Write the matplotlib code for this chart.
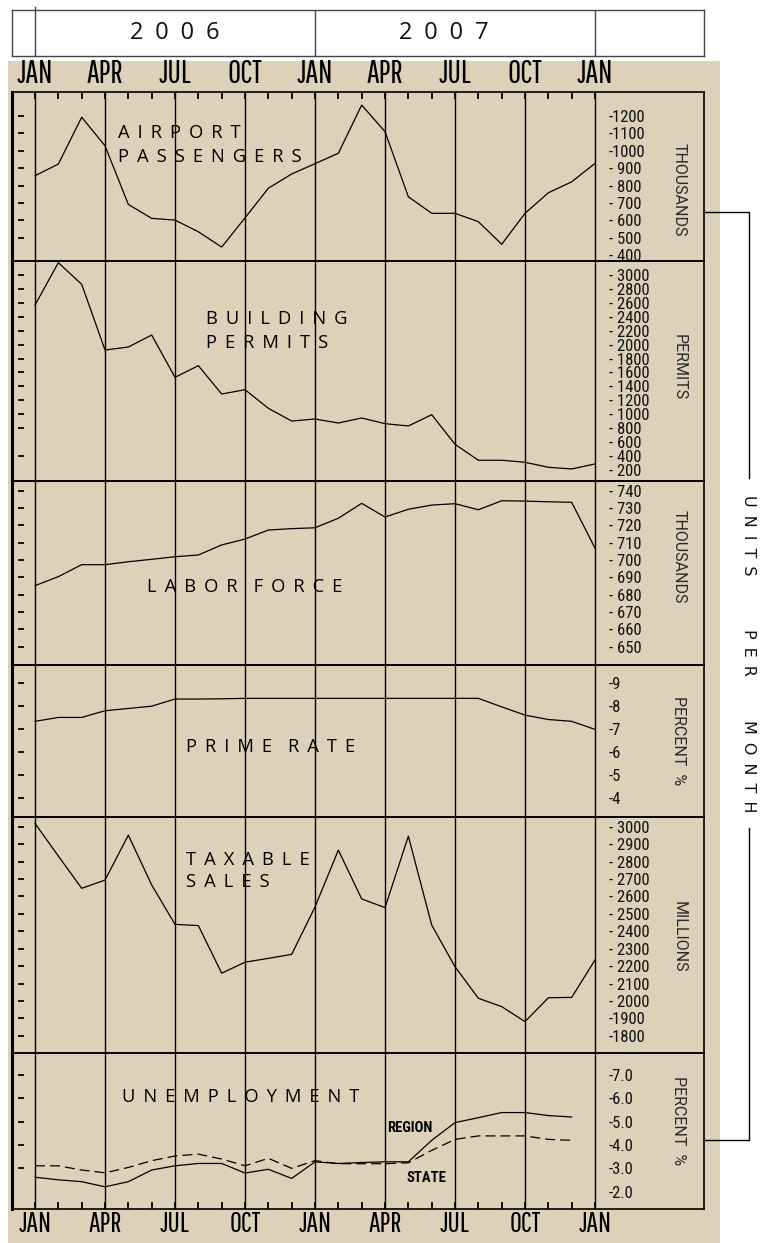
import numpy as np
import matplotlib.pyplot as plt
from matplotlib.patches import Rectangle
from matplotlib.transforms import blended_transform_factory

# monthly values, JAN 2006 .. JAN 2008
months = np.arange(25)
month_names = ['JAN', 'APR', 'JUL', 'OCT', 'JAN', 'APR', 'JUL', 'OCT', 'JAN']
years = ['2006', '2007']

airport = [857, 924, 1193, 1029, 692, 612, 602, 535, 447, 615, 785, 867, 926,
           986, 1263, 1110, 736, 641, 641, 593, 463, 641, 759, 822, 928]
permits = [2569, 3177, 2866, 1923, 1966, 2138, 1531, 1698, 1291, 1353, 1086, 903,
           932, 875, 947, 865, 832, 994, 569, 340, 340, 311, 239, 215, 287]
labor = [685.2, 690.4, 697.3, 697.3, 699.0, 700.4, 701.9, 702.9, 708.7, 712.1,
         717.3, 718.1, 718.6, 724.1, 732.7, 724.8, 729.3, 731.7, 732.5, 729.0,
         734.2, 734.0, 733.6, 733.3, 706.8]
prime = [7.35, 7.52, 7.52, 7.81, 7.91, 8.01, 8.32, 8.32, 8.33, 8.35, 8.35, 8.35,
         8.35, 8.35, 8.35, 8.35, 8.35, 8.35, 8.35, 8.35, 7.98, 7.62, 7.43, 7.35, 7.0]
taxable = [3019, 2832, 2647, 2694, 2952, 2666, 2440, 2433, 2160, 2223, 2245, 2268,
           2540, 2866, 2586, 2536, 2946, 2436, 2197, 2016, 1968, 1882, 2019, 2021, 2236]
# unemployment ends at DEC 2007
region = [2.62, 2.51, 2.43, 2.21, 2.43, 2.93, 3.11, 3.21, 3.21, 2.80, 2.96, 2.57,
          3.28, 3.21, 3.25, 3.28, 3.28, 4.20, 4.96, 5.17, 5.39, 5.39, 5.26, 5.20]
state = [3.11, 3.11, 2.93, 2.81, 3.04, 3.33, 3.53, 3.61, 3.40, 3.11, 3.43, 3.00,
         3.33, 3.20, 3.20, 3.20, 3.24, 3.77, 4.24, 4.39, 4.39, 4.39, 4.24, 4.20]

# right-hand scales
airport_ticks = list(range(1200, 300, -100))
permits_ticks = list(range(3000, 0, -200))
labor_ticks = list(range(740, 640, -10))
prime_ticks = [9, 8, 7, 6, 5, 4]
taxable_ticks = list(range(3000, 1700, -100))
unemp_ticks = [7.0, 6.0, 5.0, 4.0, 3.0, 2.0]

W, H = 767, 1243
XMIN, XMAX = -0.986, 28.67
TAN = '#ddd1b9'
NARROW = ['Roboto Condensed', 'DejaVu Sans']
MONTHF = ['Pathway Gothic One', 'Roboto Condensed', 'DejaVu Sans']
TITLE = ['Open Sans', 'DejaVu Sans']
UNITF = ['Roboto', 'DejaVu Sans']
GAP = '\u2004\u200a'


def px_rect(x0, y0, x1, y1):
    return [x0 / W, 1 - y1 / H, (x1 - x0) / W, (y1 - y0) / H]


def spaced(word, gap=GAP):
    return gap.join(word).replace(gap + ' ' + gap, gap * 2)


def lab4(v):
    return '-%d' % v if v >= 1000 else '- %d' % v


fig = plt.figure(figsize=(W / 100, H / 100), dpi=100)

deco = fig.add_axes([0, 0, 1, 1], zorder=0)
deco.set_xlim(0, W)
deco.set_ylim(H, 0)
deco.axis('off')
deco.add_patch(Rectangle((8, 61), 712, H - 61, color=TAN, lw=0))

# header with the years
hax = fig.add_axes(px_rect(12, 10, 704, 56), zorder=2)
hax.set_xlim(XMIN, XMAX)
hax.set_ylim(0, 1)
hax.set_xticks([0, 12, 24])
hax.set_yticks([])
hax.tick_params(axis='x', length=0, labelbottom=False)
hax.grid(axis='x', color='#444', lw=1)
for s in hax.spines.values():
    s.set_color('#444')
    s.set_linewidth(1)
hax.axvline(0, ymin=1, ymax=1.07, color='#444', lw=1, clip_on=False)
for yr, xm in zip(years, [6, 17.5]):
    hax.text(xm, 0.5, spaced(yr, '\u2002'), ha='center', va='center', fontsize=17,
             family=TITLE, color='#111')

panels = [
    dict(y=airport, lim=(367, 1338), ticks=airport_ticks,
         labels=[lab4(v) for v in airport_ticks],
         dash=airport_ticks[:-1], unit='THOUSANDS',
         title=[('AIRPORT', 118, 133), ('PASSENGERS', 118, 157)]),
    dict(y=permits, lim=(42, 3201), ticks=permits_ticks,
         labels=['- %d' % v for v in permits_ticks],
         dash=permits_ticks[:12] + [400], unit='PERMITS',
         title=[('BUILDING', 206, 319), ('PERMITS', 206, 343)]),
    dict(y=labor, lim=(639.4, 745.6), ticks=labor_ticks,
         labels=['- %d' % v for v in labor_ticks],
         dash=labor_ticks, unit='THOUSANDS',
         title=[('LABOR FORCE', 147, 587)]),
    dict(y=prime, lim=(3.19, 9.80), ticks=prime_ticks,
         labels=['-%d' % v for v in prime_ticks],
         dash=prime_ticks, unit='PERCENT  %',
         title=[('PRIME RATE', 186, 747)]),
    dict(y=taxable, lim=(1702, 3056), ticks=taxable_ticks,
         labels=[('- %d' if v >= 2000 else '-%d') % v for v in taxable_ticks],
         dash=taxable_ticks, unit='MILLIONS',
         title=[('TAXABLE', 186, 860), ('SALES', 186, 882)]),
    dict(y=region, lim=(1.26, 7.94), ticks=unemp_ticks,
         labels=['-%.1f' % v for v in unemp_ticks],
         dash=unemp_ticks[:-1], unit='PERCENT  %',
         title=[('UNEMPLOYMENT', 122, 1097)]),
]
edges = [92, 261, 481, 665, 817, 1053, 1209]
unit_y = [190, 367, 557, 741, 937, 1121]

axes = []
for i, p in enumerate(panels):
    ax = fig.add_axes(px_rect(12, edges[i], 704, edges[i + 1]), zorder=2)
    ax.set_facecolor('none')
    ax.set_xlim(XMIN, XMAX)
    ax.set_ylim(*p['lim'])
    ax.plot(months[:len(p['y'])], p['y'], color='black', lw=0.9)

    ax.set_xticks(range(0, 25, 3))
    ax.set_xticks(months, minor=True)
    ax.grid(axis='x', which='major', color='black', lw=1)
    ax.tick_params(axis='x', which='both', length=0, labelbottom=False)

    ax.yaxis.set_ticks_position('right')
    ax.set_yticks(p['ticks'])
    ax.set_yticklabels(p['labels'], family=NARROW, fontsize=12, color='#111')
    ax.tick_params(axis='y', length=0, pad=-68.4, labelright=True, labelleft=False)

    trans = blended_transform_factory(ax.transAxes, ax.transData)
    ax.plot([0.0137] * len(p['dash']), p['dash'], ls='none', marker='_', ms=5,
            mew=1.3, color='black', transform=trans, clip_on=False)

    for s in ax.spines.values():
        s.set_linewidth(1.2)
    ax.spines['left'].set_linewidth(2.2)

    for word, x, y in p['title']:
        deco.text(x, y, spaced(word), ha='left', va='center', fontsize=13.2,
                  family=TITLE, color='black')
    deco.text(679, unit_y[i], p['unit'], rotation=-90, ha='center', va='center',
              fontsize=11.5, family=UNITF, color='#2a2a2a')
    axes.append(ax)

top, bottom = axes[0], axes[-1]
top.set_xticklabels(month_names, family=MONTHF, fontsize=23)
top.tick_params(axis='x', which='both', direction='in', top=True, bottom=False,
                length=5, width=1.3, labeltop=True, pad=2.5)
bottom.set_xticklabels(month_names, family=MONTHF, fontsize=21)
bottom.tick_params(axis='x', which='both', direction='in', bottom=True,
                   length=5, width=1.3, labelbottom=True, pad=1.5)

# second unemployment series and its labels
bottom.plot(months[:len(state)], state, color='black', lw=0.9, dashes=(8, 4))
bottom.text(15.1, 4.72, 'REGION', ha='left', va='center', fontsize=10.5,
            family=NARROW, weight='bold')
bottom.text(15.9, 2.57, 'STATE', ha='left', va='center', fontsize=10.5,
            family=NARROW, weight='bold')

# bracket on the right
deco.plot([704, 748.5, 748.5], [212, 212, 478], color='black', lw=1)
deco.plot([748.5, 748.5, 704], [828, 1140, 1140], color='black', lw=1)
for word, y in [('UNITS', 535), ('PER', 652), ('MONTH', 766)]:
    deco.text(748.5, y, spaced(word, '\u2002'), rotation=-90, ha='center',
              va='center', fontsize=11.5, family=['DejaVu Sans'], color='#111')

fig.savefig('out.png', dpi=100)
